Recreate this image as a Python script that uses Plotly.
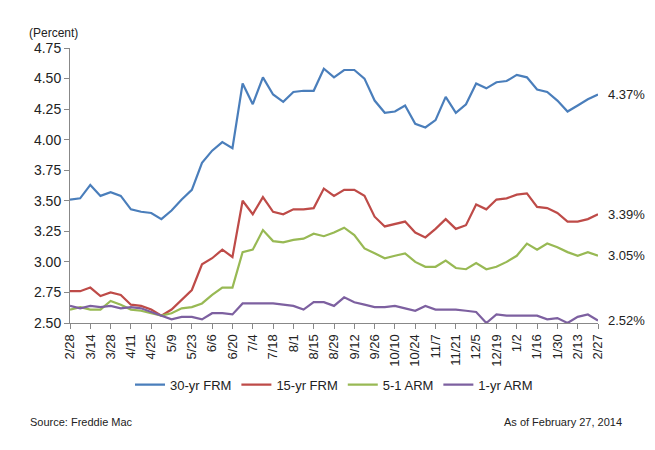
import plotly.graph_objects as go

weeks = ["2/28", "3/7", "3/14", "3/21", "3/28", "4/4", "4/11", "4/18", "4/25", "5/2",
         "5/9", "5/16", "5/23", "5/30", "6/6", "6/13", "6/20", "6/27", "7/4", "7/11",
         "7/18", "7/25", "8/1", "8/8", "8/15", "8/22", "8/29", "9/5", "9/12", "9/19",
         "9/26", "10/3", "10/10", "10/17", "10/24", "10/31", "11/7", "11/14", "11/21", "11/28",
         "12/5", "12/12", "12/19", "12/26", "1/2", "1/9", "1/16", "1/23", "1/30", "2/6",
         "2/13", "2/20", "2/27"]

frm30 = [3.51, 3.52, 3.63, 3.54, 3.57, 3.54, 3.43, 3.41, 3.40, 3.35, 3.42, 3.51, 3.59, 3.81,
         3.91, 3.98, 3.93, 4.46, 4.29, 4.51, 4.37, 4.31, 4.39, 4.40, 4.40, 4.58, 4.51, 4.57,
         4.57, 4.50, 4.32, 4.22, 4.23, 4.28, 4.13, 4.10, 4.16, 4.35, 4.22, 4.29, 4.46, 4.42,
         4.47, 4.48, 4.53, 4.51, 4.41, 4.39, 4.32, 4.23, 4.28, 4.33, 4.37]
frm15 = [2.76, 2.76, 2.79, 2.72, 2.75, 2.73, 2.65, 2.64, 2.61, 2.56, 2.61, 2.69, 2.77, 2.98,
         3.03, 3.10, 3.04, 3.50, 3.39, 3.53, 3.41, 3.39, 3.43, 3.43, 3.44, 3.60, 3.54, 3.59,
         3.59, 3.54, 3.37, 3.29, 3.31, 3.33, 3.24, 3.20, 3.27, 3.35, 3.27, 3.30, 3.47, 3.43,
         3.51, 3.52, 3.55, 3.56, 3.45, 3.44, 3.40, 3.33, 3.33, 3.35, 3.39]
arm51 = [2.61, 2.63, 2.61, 2.61, 2.68, 2.65, 2.61, 2.60, 2.58, 2.56, 2.58, 2.62, 2.63, 2.66,
         2.73, 2.79, 2.79, 3.08, 3.10, 3.26, 3.17, 3.16, 3.18, 3.19, 3.23, 3.21, 3.24, 3.28,
         3.22, 3.11, 3.07, 3.03, 3.05, 3.07, 3.00, 2.96, 2.96, 3.01, 2.95, 2.94, 2.99, 2.94,
         2.96, 3.00, 3.05, 3.15, 3.10, 3.15, 3.12, 3.08, 3.05, 3.08, 3.05]
arm1 = [2.64, 2.62, 2.64, 2.63, 2.64, 2.62, 2.63, 2.62, 2.59, 2.56, 2.53, 2.55, 2.55, 2.53,
        2.58, 2.58, 2.57, 2.66, 2.66, 2.66, 2.66, 2.65, 2.64, 2.61, 2.67, 2.67, 2.64, 2.71,
        2.67, 2.65, 2.63, 2.63, 2.64, 2.62, 2.60, 2.64, 2.61, 2.61, 2.61, 2.60, 2.59, 2.50,
        2.57, 2.56, 2.56, 2.56, 2.56, 2.53, 2.54, 2.50, 2.55, 2.57, 2.52]

series = [("30-yr FRM", frm30, "#4a7ebb"), ("15-yr FRM", frm15, "#be4b48"),
          ("5-1 ARM", arm51, "#98b954"), ("1-yr ARM", arm1, "#7d60a0")]

x = list(range(len(weeks)))
fig = go.Figure()
for name, vals, col in series:
    fig.add_trace(go.Scatter(x=x, y=vals, name=name, mode="lines",
                             line=dict(color=col, width=2.2)))
    # end label
    fig.add_annotation(x=x[-1], y=vals[-1], text=f"{vals[-1]:.2f}%", showarrow=False,
                       xanchor="left", xshift=8, font=dict(size=13, color="#222"))

fig.add_annotation(x=0, y=1.02, xref="paper", yref="paper", text="(Percent)", showarrow=False,
                   xanchor="right", xshift=10, yanchor="bottom", font=dict(size=12, color="#222"))
fig.add_annotation(x=-0.08, y=-0.39, xref="paper", yref="paper", text="Source: Freddie Mac",
                   showarrow=False, xanchor="left", font=dict(size=11, color="#222"))
fig.add_annotation(x=1.05, y=-0.39, xref="paper", yref="paper", text="As of February 27, 2014",
                   showarrow=False, xanchor="right", font=dict(size=11, color="#222"))

fig.update_layout(
    width=655, height=450, plot_bgcolor="white", paper_bgcolor="white",
    font=dict(family="Liberation Sans, Arial", size=12, color="#222"),
    margin=dict(l=62, r=65, t=40, b=135),
    legend=dict(orientation="h", x=0.5, xanchor="center", y=-0.17, yanchor="top",
                font=dict(size=13), traceorder="normal"),
    xaxis=dict(tickvals=x[::2], ticktext=weeks[::2], tickangle=-90, range=[0, len(x) - 1],
               showline=True, linecolor="#888", ticks="outside", ticklen=5, tickcolor="#888",
               showgrid=False, tickfont=dict(size=13)),
    yaxis=dict(range=[2.5, 4.75], dtick=0.25, tickformat=".2f", showline=True, linecolor="#888",
               ticks="outside", ticklen=5, tickcolor="#888", showgrid=False, zeroline=False,
               tickfont=dict(size=14)),
)
fig.write_html("out.html")
